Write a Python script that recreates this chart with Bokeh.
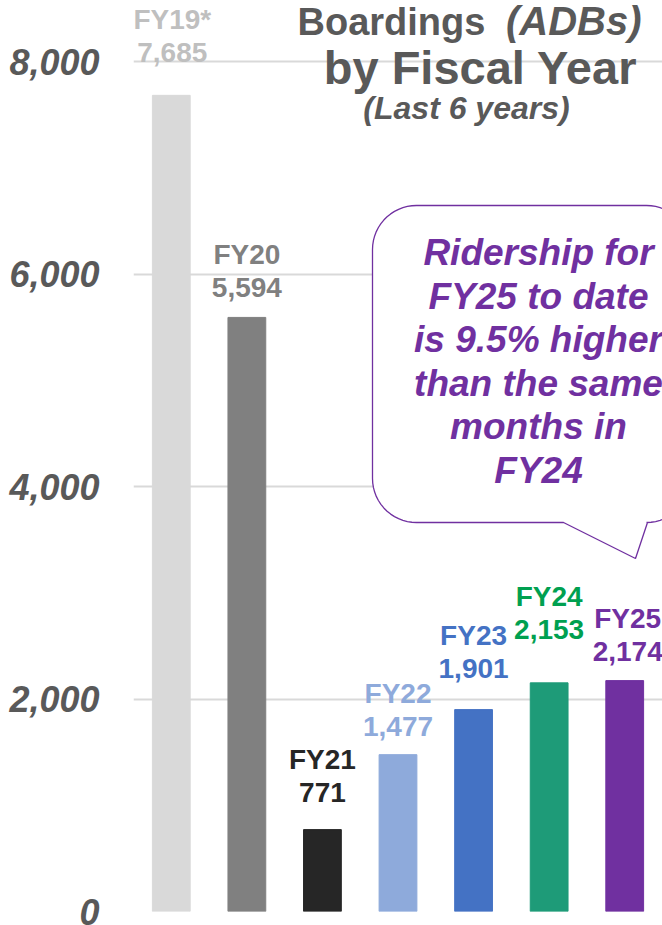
import numpy as np
from bokeh.plotting import figure
from bokeh.models import ColumnDataSource, FactorRange, Range1d, FixedTicker, NumeralTickFormatter, LabelSet
from bokeh.core.properties import value
from bokeh.embed import file_html
from bokeh.resources import INLINE

# ---- data ----
years = ["FY19*", "FY20", "FY21", "FY22", "FY23", "FY24", "FY25"]
boardings = [7685, 5594, 771, 1477, 1901, 2153, 2174]
value_labels = ["7,685", "5,594", "771", "1,477", "1,901", "2,153", "2,174"]
y_ticks = [0, 2000, 4000, 6000, 8000]
callout_lines = ["Ridership for", "FY25 to date", "is 9.5% higher", "than the same", "months in", "FY24"]

# ---- style ----
bar_colors = ["#D9D9D9", "#808080", "#262626", "#8EAADB", "#4472C4", "#1E9B78", "#7030A0"]
label_colors = ["#BFBFBF", "#808080", "#262626", "#8EAADB", "#4472C4", "#00A050", "#7030A0"]
label_gap_px = [33, 20, 28, 19, 32, 44, 20]
label_dx_px = [1, 0, 0, 0, 0, 0, 3]
LINE = 33
K = 0.42          # baseline compensation for svg text glyphs (fraction of font size)
LFS = 28
FONT = value("Liberation Sans")
GRAY = "#595959"
PURPLE = "#7030A0"

W, H = 662, 925
LEFT, BOTTOM_B, TOP_B = 133, 14, 0
frame_h = H - TOP_B - BOTTOM_B
px_per_unit = 0.1062
y_end = frame_h / px_per_unit

# page-pixel -> data helpers
FX0 = LEFT
FY0 = TOP_B + frame_h
CAT_W = (W - LEFT) / len(years)
def xd(px):
    return (px - FX0) / CAT_W
def yd(py):
    return (FY0 - py) / px_per_unit
def ty(py, fs):
    return yd(py - K * fs)

p = figure(x_range=FactorRange(*years, range_padding=0), y_range=Range1d(0, y_end),
           width=W, height=H, output_backend="svg", toolbar_location=None,
           min_border_left=LEFT, min_border_right=0, min_border_top=TOP_B,
           min_border_bottom=BOTTOM_B)
p.outline_line_color = None
p.background_fill_color = "white"
p.xaxis.visible = False
p.xgrid.grid_line_color = None
p.ygrid.grid_line_color = "#D9D9D9"
p.ygrid.grid_line_width = 2
p.yaxis.ticker = FixedTicker(ticks=y_ticks)
p.yaxis.formatter = NumeralTickFormatter(format="0,0")
p.yaxis.axis_line_color = None
p.yaxis.major_tick_line_color = None
p.yaxis.minor_tick_line_color = None
p.yaxis.major_label_standoff = 28
p.yaxis.major_label_text_font = "Liberation Sans"
p.yaxis.major_label_text_font_style = "bold italic"
p.yaxis.major_label_text_font_size = "36px"
p.yaxis.major_label_text_color = GRAY

src = ColumnDataSource(dict(x=years, top=boardings, color=bar_colors, lcolor=label_colors,
                            vlab=value_labels,
                            off1=[g for g in label_gap_px],
                            off2=[g + LINE for g in label_gap_px],
                            dx=label_dx_px))
p.vbar(x="x", top="top", width=0.5, color="color", source=src)

for txt, off in [("vlab", "off1"), ("x", "off2")]:
    p.add_layout(LabelSet(x="x", y="top", text=txt, source=src, text_color="lcolor",
                          y_offset=off, x_offset="dx",
                          text_font=FONT, text_font_style="bold",
                          text_font_size=f"{LFS}px", text_align="center",
                          text_baseline="alphabetic"))

# ---- callout bubble ----
L, T, R, B, r = 372, 205, 690, 522, 44
def arc(cx, cy, a0, a1, n=16):
    a = np.radians(np.linspace(a0, a1, n))
    return list(cx + r * np.cos(a)), list(cy + r * np.sin(a))
xs, ys = [], []
for (cx, cy, a0, a1) in [(R - r, T + r, 270, 360), (R - r, B - r, 0, 90)]:
    ax_, ay_ = arc(cx, cy, a0, a1); xs += ax_; ys += ay_
xs += [647, 635, 563]; ys += [B, 558, B]
for (cx, cy, a0, a1) in [(L + r, B - r, 90, 180), (L + r, T + r, 180, 270)]:
    ax_, ay_ = arc(cx, cy, a0, a1); xs += ax_; ys += ay_
p.patch([xd(v) for v in xs], [yd(v) for v in ys], fill_color="white",
        line_color=PURPLE, line_width=1.3)

CFS = 37
cl_base = [268, 311.5, 355, 398.5, 442, 486]
p.text(x=[xd(538)] * len(callout_lines), y=[ty(b, CFS) for b in cl_base], text=callout_lines,
       text_color=PURPLE, text_font=FONT, text_font_style="bold italic", text_font_size=f"{CFS}px",
       text_align="center", text_baseline="alphabetic")

# ---- title ----
p.text(x=[xd(297)], y=[ty(37, 38)], text=["Boardings"], text_color=GRAY, text_font=FONT,
       text_font_style="bold", text_font_size="38px", text_align="left", text_baseline="alphabetic")
p.text(x=[xd(641)], y=[ty(37, 40)], text=["(ADBs)"], text_color=GRAY, text_font=FONT,
       text_font_style="bold italic", text_font_size="40px", text_align="right", text_baseline="alphabetic")
p.text(x=[xd(480)], y=[ty(87, 47)], text=["by Fiscal Year"], text_color=GRAY, text_font=FONT,
       text_font_style="bold", text_font_size="47px", text_align="center", text_baseline="alphabetic")
p.text(x=[xd(466)], y=[ty(121, 32)], text=["(Last 6 years)"], text_color=GRAY, text_font=FONT,
       text_font_style="bold italic", text_font_size="32px", text_align="center", text_baseline="alphabetic")

open("out.html", "w").write(file_html(p, INLINE))
